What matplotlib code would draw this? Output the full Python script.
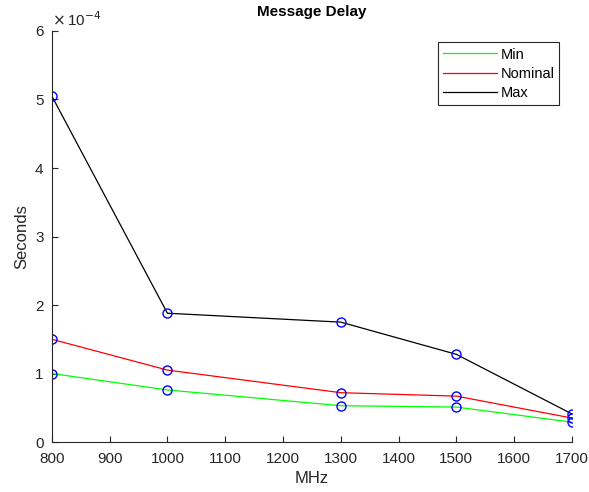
import matplotlib
matplotlib.use("Agg")
import matplotlib.pyplot as plt

plt.rcParams['font.family'] = ['Liberation Sans', 'DejaVu Sans']

freq = [800, 1000, 1300, 1500, 1700]
delay_min = [1.00e-4, 0.76e-4, 0.53e-4, 0.51e-4, 0.29e-4]
delay_nom = [1.50e-4, 1.05e-4, 0.72e-4, 0.67e-4, 0.35e-4]
delay_max = [5.05e-4, 1.88e-4, 1.75e-4, 1.28e-4, 0.41e-4]

gray = '#262626'

fig = plt.figure(figsize=(5.89, 4.92), dpi=100)
ax = fig.add_axes([0.088, 0.1016, 0.883, 0.8354])

ax.plot(freq, delay_min, color=(0, 1, 0), lw=0.9, label='Min')
ax.plot(freq, delay_nom, color=(1, 0, 0), lw=0.9, label='Nominal')
ax.plot(freq, delay_max, color='k', lw=0.9, label='Max')
for d in (delay_min, delay_nom, delay_max):
    ax.plot(freq, d, 'o', mfc='none', mec='b', ms=6.5, mew=1.0)

ax.set_xlim(800, 1700)
ax.set_ylim(0, 6e-4)
ax.set_xticks(range(800, 1701, 100))
ax.set_yticks([i * 1e-4 for i in range(7)])
ax.set_yticklabels([str(i) for i in range(7)])
ax.text(0.0, 1.005, r'$\times\,$10$^{-4}$', transform=ax.transAxes,
        fontsize=11, color=gray, va='bottom', ha='left')

for s in ('top', 'right'):
    ax.spines[s].set_visible(False)
for s in ('left', 'bottom'):
    ax.spines[s].set_color(gray)
    ax.spines[s].set_linewidth(0.8)
ax.tick_params(direction='in', colors=gray, labelsize=11, length=4, width=0.8)
ax.tick_params(axis='x', pad=7)
ax.tick_params(axis='y', pad=6)

ax.set_title('Message Delay', fontsize=11, fontweight='bold', color='k', pad=11)
ax.set_xlabel('MHz', fontsize=12, color=gray, labelpad=4)
ax.set_ylabel('Seconds', fontsize=12, color=gray, labelpad=4)

leg = ax.legend(loc='upper right', bbox_to_anchor=(0.99, 0.99), fontsize=10.5,
                fancybox=False, framealpha=1, edgecolor=gray,
                handlelength=3.7, handletextpad=0.2, borderpad=0.35,
                labelspacing=0.35)
leg.get_frame().set_linewidth(0.8)

fig.savefig('out.png', dpi=100)
